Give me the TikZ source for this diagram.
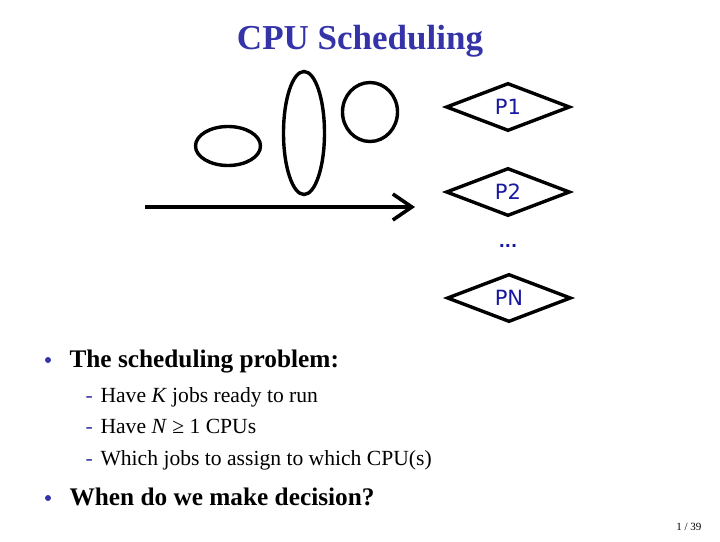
\documentclass[tikz,border=0pt]{standalone}
\usepackage{fontspec}
\setmainfont{Liberation Serif}
\newfontfamily\cpufont{DejaVu Sans}
\usetikzlibrary{shapes.geometric,arrows.meta}

\definecolor{slideblue}{RGB}{52,52,168}
\definecolor{cpublue}{RGB}{24,24,160}

\begin{document}
\begin{tikzpicture}
    [
        x=1pt, y=-1pt,
        job/.style={ellipse, draw, line width=3.4pt, inner sep=0pt},
        cpu/.style={diamond, draw, line width=3.4pt, inner sep=0pt, aspect=2.5,
            minimum width=124pt, minimum height=48pt,
            font=\cpufont\fontsize{21}{24}\selectfont, text=cpublue},
        queue/.style={line width=3.6pt, -{Straight Barb[length=19pt, width=26pt, line width=3.6pt]}},
        heading/.style={font=\fontsize{25.3}{30}\selectfont\bfseries, anchor=base west},
        item/.style={font=\fontsize{21.6}{26}\selectfont, anchor=base west},
        dot/.style={circle, fill=slideblue, inner sep=0pt, minimum size=6pt},
        subdash/.style={font=\fontsize{21.6}{26}\selectfont, text=slideblue, anchor=base west},
    ]
    \useasboundingbox (0,0) rectangle (720,541);

    % title
    \node (title) at (360,49) [anchor=base, font=\fontsize{35}{40}\selectfont\bfseries, text=slideblue] {CPU Scheduling};

    % jobs waiting
    \node (j1) at (228,146) [job, minimum width=65pt, minimum height=39pt] {};
    \node (j2) at (304,133) [job, minimum width=41pt, minimum height=123pt] {};
    \node (j3) at (370,112) [job, minimum width=55pt, minimum height=59pt] {};

    \coordinate (qstart) at (145,207);
    \coordinate (qend)   at (415,207);
    \draw [queue] (qstart) -- (qend);

    % processors
    \node (p1) at (508,107) [cpu] {P1};
    \node (p2) at (508,192) [cpu] {P2};
    \node (pdots) at (508,246) [text=cpublue, font=\cpufont\bfseries\fontsize{16}{20}\selectfont] {...};
    \node (pn) at (509,298) [cpu] {PN};

    % bullets
    \node (b1) at (48,360) [dot] {};
    \node (t1) at (66,367) [heading] {The scheduling problem:};
    \node (d1) at (82,402) [subdash] {-};
    \node (s1) at (97,402) [item] {Have \textit{K} jobs ready to run};
    \node (d2) at (82,433) [subdash] {-};
    \node (s2) at (97,433) [item] {Have \textit{N} ≥ 1 CPUs};
    \node (d3) at (82,465) [subdash] {-};
    \node (s3) at (97,465) [item] {Which jobs to assign to which CPU(s)};
    \node (b2) at (48,498) [dot] {};
    \node (t2) at (66,505) [heading] {When do we make decision?};

    % page number
    \node (page) at (705,530) [anchor=base east, font=\fontsize{11}{13}\selectfont] {1 / 39};

\end{tikzpicture}
\end{document}
